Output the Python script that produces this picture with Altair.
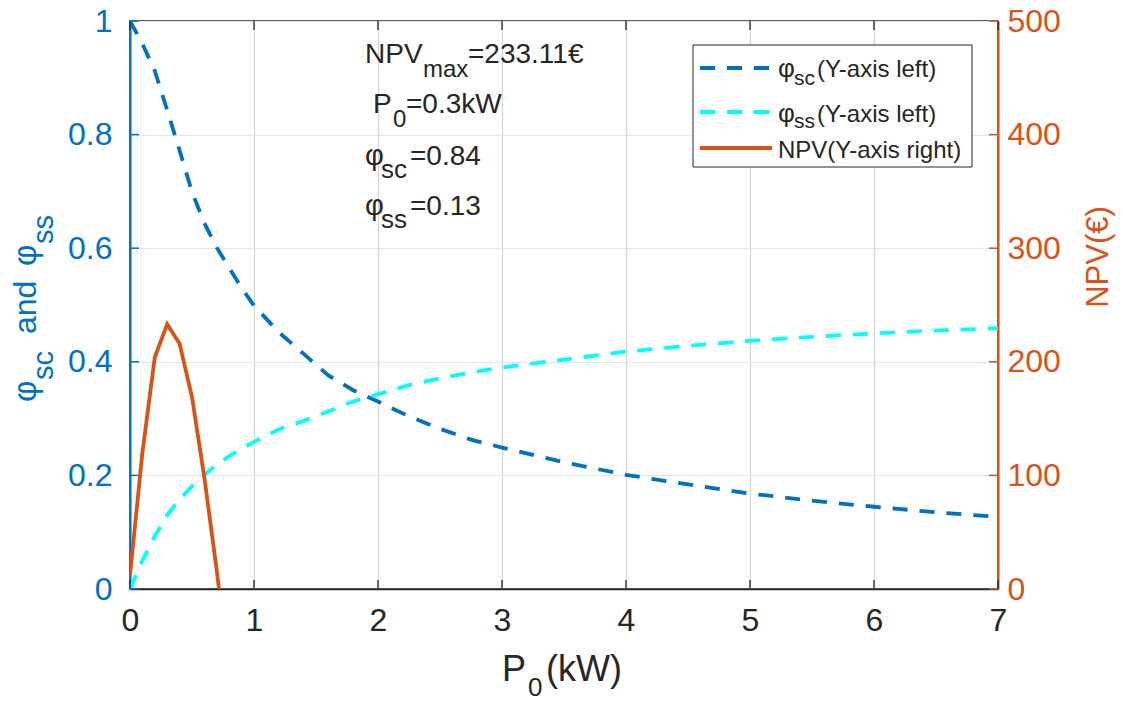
import altair as alt
import pandas as pd

# ---------------- data ----------------
p0_kw = [0, 0.1, 0.2, 0.3, 0.4, 0.5, 0.6, 0.7, 0.8, 0.9, 1.0, 1.2, 1.4, 1.6, 1.8,
         2.0, 2.25, 2.5, 2.75, 3.0, 3.5, 4.0, 4.5, 5.0, 5.5, 6.0, 6.5, 7.0]
phi_sc = [1.0, 0.96, 0.912, 0.843, 0.772, 0.699, 0.644, 0.601, 0.565, 0.530, 0.499,
          0.452, 0.414, 0.376, 0.350, 0.330, 0.304, 0.282, 0.263, 0.249, 0.223,
          0.201, 0.184, 0.168, 0.1555, 0.1448, 0.135, 0.127]
phi_ss = [0.0, 0.05, 0.093, 0.13, 0.158, 0.181, 0.201, 0.219, 0.234, 0.247, 0.259,
          0.281, 0.296, 0.313, 0.330, 0.343, 0.359, 0.371, 0.381, 0.390, 0.404,
          0.418, 0.428, 0.437, 0.444, 0.450, 0.455, 0.459]
npv_x = [0, 0.1, 0.2, 0.3, 0.4, 0.5, 0.6, 0.7, 0.8]
npv = [12, 120, 204, 233.11, 216, 169, 98, 16, -75]

x_ticks = [0, 1, 2, 3, 4, 5, 6, 7]
left_ticks = [0, 0.2, 0.4, 0.6, 0.8, 1]
right_ticks = [0, 100, 200, 300, 400, 500]

BLUE = "#0072BD"
CYAN = "#00FFFF"
ORANGE = "#D95319"
DARK = "#262626"
FONT = "Liberation Sans"
TICKFS = 32

W, H = 868, 568

phi_df = pd.DataFrame({
    "P0": p0_kw * 2,
    "phi": phi_sc + phi_ss,
    "series": ["sc"] * len(p0_kw) + ["ss"] * len(p0_kw),
})
npv_df = pd.DataFrame({"P0": npv_x, "NPV": npv})

xscale = alt.Scale(domain=[0, 7], nice=False, zero=False)
lscale = alt.Scale(domain=[0, 1], nice=False)
rscale = alt.Scale(domain=[0, 500], nice=False)

x_axis = alt.Axis(values=x_ticks, format="~g", title=None, ticks=False, labelFlush=False,
                  labelFont=FONT, labelFontSize=TICKFS, labelColor=DARK, labelPadding=16,
                  domainColor=DARK, domainWidth=1.5, grid=True, gridColor="#d6d6d6",
                  gridWidth=1.3)

phi_lines = alt.Chart(phi_df).mark_line(strokeWidth=3.8, strokeDash=[15, 12], clip=True).encode(
    x=alt.X("P0:Q", scale=xscale, axis=x_axis),
    y=alt.Y("phi:Q", scale=lscale,
            axis=alt.Axis(values=left_ticks, format="~g", title=None, ticks=False,
                          labelFlush=False,
                          labelFont=FONT, labelFontSize=TICKFS, labelColor=BLUE,
                          labelPadding=18, domainColor=BLUE, domainWidth=2,
                          grid=True, gridColor="#d9e8f4", gridWidth=1)),
    color=alt.Color("series:N", scale=alt.Scale(domain=["sc", "ss"], range=[BLUE, CYAN]),
                    legend=None),
)

# inward tick marks (MATLAB style)
xt_df = pd.DataFrame({"v": x_ticks})
lt_df = pd.DataFrame({"v": left_ticks})
rt_df = pd.DataFrame({"v": right_ticks})

bottom_ticks = alt.Chart(xt_df).mark_rule(color=DARK, strokeWidth=1.3).encode(
    x=alt.X("v:Q", scale=xscale), y=alt.value(H), y2=alt.value(H - 9))
top_ticks = alt.Chart(xt_df).mark_rule(color=DARK, strokeWidth=1.3).encode(
    x=alt.X("v:Q", scale=xscale), y=alt.value(0), y2=alt.value(9))
left_tk = alt.Chart(lt_df).mark_rule(color=BLUE, strokeWidth=1.5).encode(
    y=alt.Y("v:Q", scale=lscale), x=alt.value(0), x2=alt.value(9))
right_tk = alt.Chart(rt_df).mark_rule(color=ORANGE, strokeWidth=1.5).encode(
    y=alt.Y("v:Q", scale=rscale), x=alt.value(W), x2=alt.value(W - 9))

npv_line = alt.Chart(npv_df).mark_line(color=ORANGE, strokeWidth=3.8, clip=True).encode(
    x=alt.X("P0:Q", scale=xscale),
    y=alt.Y("NPV:Q", scale=rscale,
            axis=alt.Axis(orient="right", values=right_ticks, title=None, ticks=False,
                          labelFlush=False,
                          labelFont=FONT, labelFontSize=TICKFS, labelColor=ORANGE,
                          labelPadding=9, domainColor=ORANGE, domainWidth=2, grid=False)),
)


def txt(s, px, py, size, color=DARK, angle=0, align="left", baseline="alphabetic"):
    kw = dict(font=FONT, fontSize=size, color=color, align=align, baseline=baseline)
    if angle:
        kw["angle"] = angle
    return alt.Chart(pd.DataFrame({"t": [s]})).mark_text(**kw).encode(
        text="t:N", x=alt.value(px), y=alt.value(py))


texts = []
# annotation block
texts += [txt("NPV", 235, 42, 28), txt("max", 293, 56, 24), txt("=233.11€", 338, 42, 28)]
texts += [txt("P", 243, 92, 28), txt("0", 263, 106, 24), txt("=0.3kW", 276, 92, 28)]
texts += [txt("φ", 235, 144, 29), txt("sc", 251, 157, 26), txt("=0.84", 280, 144, 28)]
texts += [txt("φ", 235, 194, 29), txt("ss", 251, 207, 26), txt("=0.13", 280, 194, 28)]

# x-axis title
texts += [txt("P", 372, 660, 36), txt("0", 398, 675, 26), txt("(kW)", 416, 660, 36)]
# left axis title (rotated)
texts += [txt("φ", -94, 381, 33, BLUE, 270), txt("sc", -77, 359, 29, BLUE, 270),
          txt("and", -94, 313, 32, BLUE, 270),
          txt("φ", -94, 245, 33, BLUE, 270), txt("ss", -77, 223, 29, BLUE, 270)]
# right axis title
texts += [txt("NPV(€)", 978, 236, 31, ORANGE, 270, align="center")]

# legend box
leg_box = alt.Chart(pd.DataFrame({"a": [0]})).mark_rect(
    fill="white", stroke=DARK, strokeWidth=1).encode(
    x=alt.value(563), x2=alt.value(842), y=alt.value(24), y2=alt.value(146))
leg_sc = alt.Chart(pd.DataFrame({"a": [0]})).mark_rule(
    color=BLUE, strokeWidth=3.8, strokeDash=[15, 12]).encode(
    x=alt.value(570), x2=alt.value(642), y=alt.value(47))
leg_ss = alt.Chart(pd.DataFrame({"a": [0]})).mark_rule(
    color=CYAN, strokeWidth=3.8, strokeDash=[15, 12]).encode(
    x=alt.value(570), x2=alt.value(642), y=alt.value(91))
leg_npv = alt.Chart(pd.DataFrame({"a": [0]})).mark_rule(
    color=ORANGE, strokeWidth=3.8).encode(
    x=alt.value(570), x2=alt.value(642), y=alt.value(127))
legend_layers = [leg_box, leg_sc, leg_ss, leg_npv,
                 txt("φ", 648, 56, 26), txt("sc", 664, 64, 21), txt("(Y-axis left)", 687, 56, 24),
                 txt("φ", 648, 101, 26), txt("ss", 664, 107, 21), txt("(Y-axis left)", 687, 101, 24),
                 txt("NPV(Y-axis right)", 648, 137, 24)]

left_group = alt.layer(phi_lines, bottom_ticks, top_ticks, left_tk, *texts)
right_group = alt.layer(npv_line, right_tk, *legend_layers)

chart = alt.layer(left_group, right_group).resolve_scale(y="independent").properties(
    width=W, height=H,
    autosize=alt.AutoSizeParams(type="none"),
    padding={"left": 130, "top": 21, "right": 125, "bottom": 113},
    background="white",
).configure_view(stroke=DARK, strokeWidth=1.5)

chart.save("out.html", embed_options={"renderer": "svg", "actions": False})
